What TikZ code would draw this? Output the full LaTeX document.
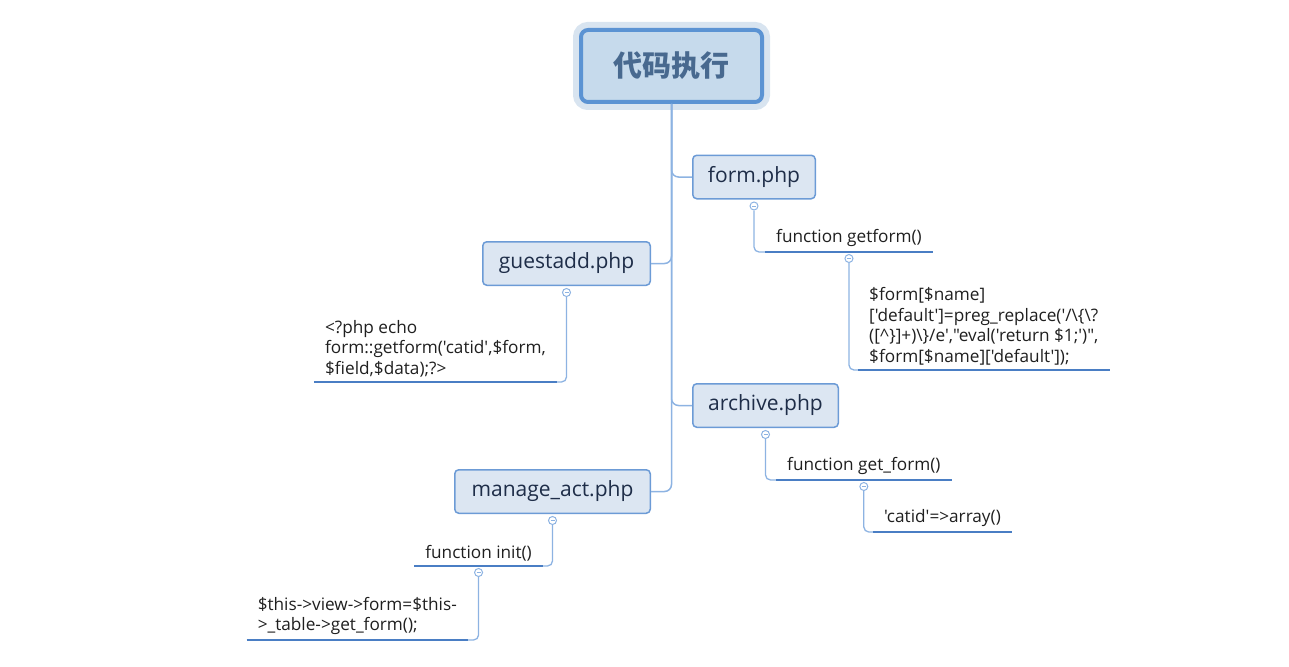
\documentclass[tikz,border=0pt]{standalone}
\usepackage{fontspec}
\setmainfont{Open Sans}
\newfontfamily\codefont{Open Sans}
\newfontfamily\cjk{Noto Sans CJK SC}
\usetikzlibrary{positioning}

\definecolor{rootdraw}{HTML}{5B93D3}
\definecolor{rootfill}{HTML}{C6DAEC}
\definecolor{roothalo}{HTML}{D8E4F0}
\definecolor{roottext}{HTML}{48698F}
\definecolor{filedraw}{HTML}{6C9BD6}
\definecolor{filefill}{HTML}{DCE6F2}
\definecolor{filetext}{HTML}{1E2D48}
\definecolor{twigblue}{HTML}{8DB3E2}
\definecolor{ulineblue}{HTML}{4A7EC4}

\begin{document}
\begin{tikzpicture}[x=1pt, y=-1pt,
    root/.style={draw=rootdraw, line width=4pt, fill=rootfill, rounded corners=7pt,
        preaction={draw=roothalo, line width=16pt},
        minimum width=181pt, minimum height=72pt, text=roottext,
        font=\cjk\bfseries\fontsize{29}{29}\selectfont},
    file/.style={draw=filedraw, line width=1.5pt, fill=filefill, rounded corners=4pt,
        minimum height=43.5pt, inner sep=0pt, text=filetext,
        font=\codefont\fontsize{21}{21}\selectfont},
    leaf/.style={align=left, inner xsep=11pt, inner ysep=5pt, text=black!88,
        font=\codefont\fontsize{17.2}{20.5}\selectfont},
    toggle/.style={circle, draw=twigblue, fill=white, line width=1pt,
        minimum size=8pt, inner sep=0pt,
        path picture={\draw[twigblue, line width=0.8pt]
            ([xshift=-2pt]path picture bounding box.center) --
            ([xshift=2pt]path picture bounding box.center);}},
    branch/.style={draw=twigblue, line width=1.5pt, rounded corners=7pt},
    twig/.style={draw=twigblue, line width=1.3pt, rounded corners=5pt},
    uline/.style={draw=ulineblue, line width=2.6pt}]
    \useasboundingbox (0,0) rectangle (1289,666);

    % Root and the php files
    \node[root] (root) at (671.5,66) {代码执行};
    \node[file, minimum width=122.5pt] (form) at (754,177) {form.php};
    \node[file, minimum width=167.5pt] (guest) at (566.5,263.5) {guestadd.php};
    \node[file, minimum width=145.5pt] (archive) at (765.5,405.5) {archive.php};
    \node[file, minimum width=195.5pt] (manage) at (552.5,491.5) {manage\_act.php};

    % Toggles under the files
    \node[toggle, below=2pt of form] (formtog) {};
    \node[toggle, below=2pt of guest] (guesttog) {};
    \node[toggle, below=2pt of archive] (archivetog) {};
    \node[toggle, below=2pt of manage] (managetog) {};

    % Code lines
    \node[leaf, anchor=south west] (getform) at (765,252) {function getform()};
    \node[toggle, below=2pt of getform] (getformtog) {};
    \node[leaf, anchor=south west] (formcode) at (858,370)
        {\$form[\$name]\\{}['default']=preg\_replace('/\textbackslash\{\textbackslash?\\
         ([\textasciicircum\}]+)\textbackslash\}/e',"eval('return \$1;')",\\
         \$form[\$name]['default']);};
    \node[leaf, anchor=south east] (guestcode) at (557,382)
        {<?php echo\\form::getform('catid',\$form,\\\$field,\$data);?>};
    \node[leaf, anchor=south west] (archfn) at (776,480) {function get\_form()};
    \node[toggle, below=2pt of archfn] (archfntog) {};
    \node[leaf, anchor=south west] (catid) at (873,532) {'catid'=>array()};
    \node[leaf, anchor=south east] (init) at (543,566) {function init()};
    \node[toggle, below=2pt of init] (inittog) {};
    \node[leaf, anchor=south east] (thiscode) at (468,640)
        {\$this->view->form=\$this-\\>\_table->get\_form();};

    % Trunk and branches from the root
    \draw[branch] (root.south) |- (manage.east);
    \draw[branch] (root.south) |- (form.west);
    \draw[branch] (root.south) |- (guest.east);
    \draw[branch] (root.south) |- (archive.west);

    % Branches down to the code lines
    \draw[twig] (formtog) |- (getform.south west);
    \draw[twig] (getformtog) |- (formcode.south west);
    \draw[twig] (guesttog) |- (guestcode.south east);
    \draw[twig] (archivetog) |- (archfn.south west);
    \draw[twig] (archfntog) |- (catid.south west);
    \draw[twig] (managetog) |- (init.south east);
    \draw[twig] (inittog) |- (thiscode.south east);

    \foreach \leafname in {getform, formcode, guestcode, archfn, catid, init, thiscode}
        \draw[uline] (\leafname.south west) -- (\leafname.south east);
\end{tikzpicture}
\end{document}
